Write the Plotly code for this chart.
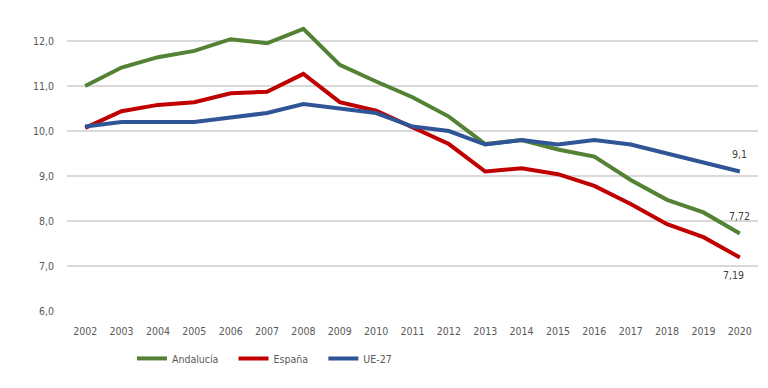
import plotly.graph_objects as go

years = list(range(2002, 2021))
andalucia = [11.0, 11.41, 11.64, 11.78, 12.04, 11.95, 12.27, 11.47, 11.1, 10.75, 10.32, 9.71, 9.8, 9.59, 9.43, 8.91, 8.47, 8.19, 7.72]
espana = [10.07, 10.44, 10.58, 10.64, 10.84, 10.87, 11.27, 10.64, 10.45, 10.07, 9.71, 9.1, 9.17, 9.04, 8.78, 8.38, 7.93, 7.64, 7.19]
ue27 = [10.1, 10.2, 10.2, 10.2, 10.3, 10.4, 10.6, 10.5, 10.4, 10.1, 10.0, 9.7, 9.8, 9.7, 9.8, 9.7, 9.5, 9.3, 9.1]
end_labels = ["7,72", "7,19", "9,1"]
y_ticks = [6, 7, 8, 9, 10, 11, 12]
y_ticktext = ["6,0", "7,0", "8,0", "9,0", "10,0", "11,0", "12,0"]

names = ["Andalucía", "España", "UE-27"]
colors = ["#548235", "#C00000", "#2F5597"]
series = [andalucia, espana, ue27]
legend_ids = ["legend", "legend2", "legend3"]
legend_x = [0.094, 0.241, 0.371]

FONT = "DejaVu Sans Condensed, sans-serif"
FS = 10.5

fig = go.Figure()
for name, col, vals, lid in zip(names, colors, series, legend_ids):
    fig.add_trace(go.Scatter(x=years, y=vals, mode="lines", name=name, legend=lid,
                             line=dict(color=col, width=4)))

# end-value labels
shifts = [(0, 18), (-6, -18), (0, 18)]
for lab, vals, (xs, ys) in zip(end_labels, series, shifts):
    fig.add_annotation(x=years[-1], y=vals[-1], text=lab, showarrow=False,
                       yshift=ys, xshift=xs,
                       font=dict(family=FONT, size=FS, color="#404040"))

legend_common = dict(orientation="h", xanchor="left", y=-0.155, yanchor="middle",
                     font=dict(family=FONT, size=FS, color="#595959"),
                     itemwidth=30, bgcolor="rgba(0,0,0,0)")

fig.update_layout(
    width=768, height=388,
    margin=dict(l=67, r=10, t=5, b=77),
    paper_bgcolor="white", plot_bgcolor="white",
    font=dict(family=FONT, size=FS, color="#595959"),
    showlegend=True,
    legend=dict(x=legend_x[0], **legend_common),
    legend2=dict(x=legend_x[1], **legend_common),
    legend3=dict(x=legend_x[2], **legend_common),
    xaxis=dict(range=[2001.5, 2020.5], tickmode="array", tickvals=years,
               ticktext=[str(y) for y in years], showgrid=False, zeroline=False,
               showline=False, ticks="", automargin=False, ticklabelstandoff=12,
               tickfont=dict(family=FONT, size=FS, color="#595959")),
    yaxis=dict(range=[6, 12.8], tickmode="array", tickvals=y_ticks, ticktext=y_ticktext,
               showgrid=True, gridcolor="#d9d9d9", gridwidth=1.5, zeroline=False,
               showline=False, ticks="", ticklabelstandoff=12, automargin=False,
               tickfont=dict(family=FONT, size=FS, color="#595959")),
)

fig.write_html("out.html", config={"displayModeBar": False},
               post_script="document.body.style.margin='0';document.body.style.overflow='hidden';")
